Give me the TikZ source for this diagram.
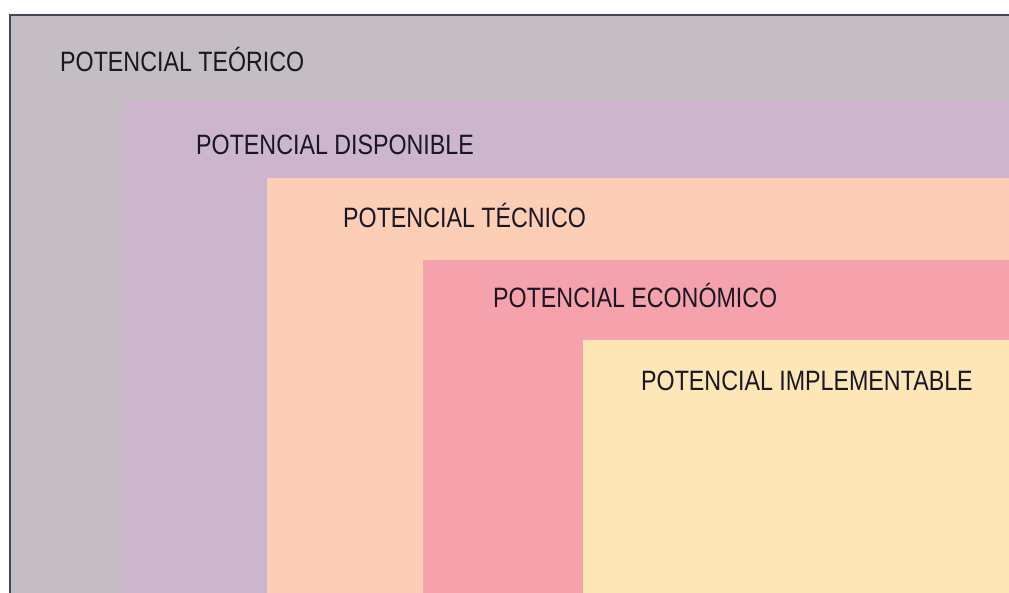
\documentclass[tikz,border=0pt]{standalone}
\usepackage{fontspec}
\newfontfamily\labfont[FakeStretch=0.83]{Liberation Sans}
\definecolor{cTeo}{RGB}{196,189,194}
\definecolor{cDis}{RGB}{206,181,206}
\definecolor{cTec}{RGB}{252,206,182}
\definecolor{cEco}{RGB}{245,162,172}
\definecolor{cImp}{RGB}{253,231,182}
\definecolor{cFrame}{RGB}{70,68,95}
\definecolor{cText}{RGB}{24,24,36}
\tikzset{
  lab/.style={anchor=base west, inner sep=0pt, text=cText, font=\labfont\fontsize{28}{30}\selectfont},
  frame/.style={draw=cFrame, line width=2pt}
}
\begin{document}
\begin{tikzpicture}[x=1pt,y=-1pt]
\useasboundingbox (0,0) rectangle (1009,593);
\fill[white] (0,0) rectangle (1009,593);
\fill[cTeo] (10,15) rectangle (1009,593);
\fill[cDis] (123,101) rectangle (1009,593);
\fill[cTec] (267,178) rectangle (1009,593);
\fill[cEco] (423,260) rectangle (1009,593);
\fill[cImp] (583,340) rectangle (1009,593);
\draw[frame] (1009,15) -- (10,15) -- (10,593);
\node[lab] (teo) at (60,72) {POTENCIAL TEÓRICO};
\node[lab] (dis) at (196,155) {POTENCIAL DISPONIBLE};
\node[lab] (tec) at (343,228) {POTENCIAL TÉCNICO};
\node[lab] (eco) at (493,308) {POTENCIAL ECONÓMICO};
\node[lab] (imp) at (641,391) {POTENCIAL IMPLEMENTABLE};
\end{tikzpicture}
\end{document}
